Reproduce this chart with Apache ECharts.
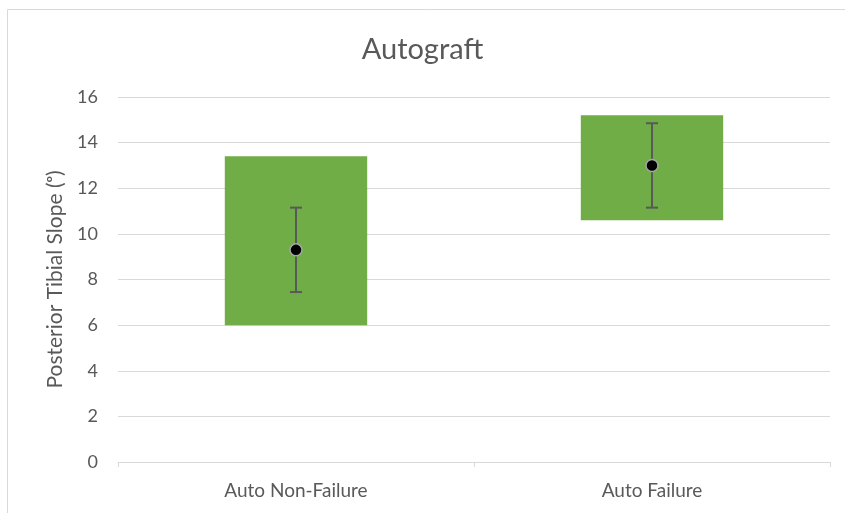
<!DOCTYPE html>
<html>
<head>
<meta charset="utf-8">
<script src="https://cdn.jsdelivr.net/npm/echarts@6/dist/echarts.min.js"></script>
<style>
  html, body { margin: 0; padding: 0; background: #fff; }
  #main { width: 845px; height: 513px; }
</style>
</head>
<body>
<div id="main"></div>
<script>
// categories and values
var categories = ['Auto Non-Failure', 'Auto Failure']
var rangeLow = [6.0, 10.6]
var rangeHigh = [13.4, 15.2]
var means = [9.3, 13.0]
var errLow = [7.45, 11.15]
var errHigh = [11.15, 14.85]
var yTicks = { min: 0, max: 16, interval: 2 }

var fontFamily = 'Lato, "Open Sans", sans-serif'
var textColor = '#595959'

var myChart = echarts.init(document.getElementById('main'))

var option = {
  animation: false,
  graphic: [
    {
      type: 'rect',
      shape: { x: 7.5, y: 9.5, width: 860, height: 520 },
      style: { fill: 'none', stroke: '#d9d9d9', lineWidth: 1 },
      silent: true
    }
  ],
  title: {
    text: 'Autograft',
    left: 'center',
    top: 30,
    textStyle: { fontFamily: fontFamily, fontSize: 29, fontWeight: 'normal', color: textColor }
  },
  grid: { left: 118, right: 15, top: 97, bottom: 51 },
  xAxis: {
    type: 'category',
    data: categories,
    axisLine: { lineStyle: { color: '#d9d9d9', width: 1 } },
    axisTick: { show: true, length: 5, alignWithLabel: false, lineStyle: { color: '#d9d9d9' } },
    axisLabel: { color: textColor, fontFamily: fontFamily, fontSize: 19, margin: 19 }
  },
  yAxis: {
    type: 'value',
    min: yTicks.min,
    max: yTicks.max,
    interval: yTicks.interval,
    name: 'Posterior Tibial Slope (ᵒ)',
    nameLocation: 'middle',
    nameGap: 50,
    nameTextStyle: { color: textColor, fontFamily: fontFamily, fontSize: 21 },
    axisLine: { show: false },
    axisTick: { show: false },
    splitLine: { lineStyle: { color: '#d9d9d9', width: 1 } },
    axisLabel: { color: textColor, fontFamily: fontFamily, fontSize: 18, margin: 20 }
  },
  series: [
    {
      name: 'base',
      type: 'bar',
      stack: 'range',
      barWidth: '40%',
      itemStyle: { color: 'transparent' },
      data: rangeLow
    },
    {
      name: 'range',
      type: 'bar',
      stack: 'range',
      barWidth: '40%',
      itemStyle: { color: '#70ad47' },
      data: rangeHigh.map(function (v, i) { return +(v - rangeLow[i]).toFixed(2) })
    },
    {
      name: 'error',
      type: 'custom',
      z: 5,
      renderItem: function (params, api) {
        var x = api.value(0)
        var top = api.coord([x, api.value(2)])
        var bottom = api.coord([x, api.value(1)])
        var half = 6
        var style = { stroke: '#595959', lineWidth: 2 }
        return {
          type: 'group',
          children: [
            { type: 'line', shape: { x1: top[0], y1: top[1], x2: bottom[0], y2: bottom[1] }, style: style },
            { type: 'line', shape: { x1: top[0] - half, y1: top[1], x2: top[0] + half, y2: top[1] }, style: style },
            { type: 'line', shape: { x1: bottom[0] - half, y1: bottom[1], x2: bottom[0] + half, y2: bottom[1] }, style: style }
          ]
        }
      },
      data: categories.map(function (c, i) { return [i, errLow[i], errHigh[i]] })
    },
    {
      name: 'mean',
      type: 'scatter',
      z: 10,
      symbol: 'circle',
      symbolSize: 12,
      itemStyle: { color: '#000', borderColor: '#a6a6a6', borderWidth: 1.5, opacity: 1 },
      data: means
    }
  ]
}

myChart.setOption(option)
</script>
</body>
</html>
